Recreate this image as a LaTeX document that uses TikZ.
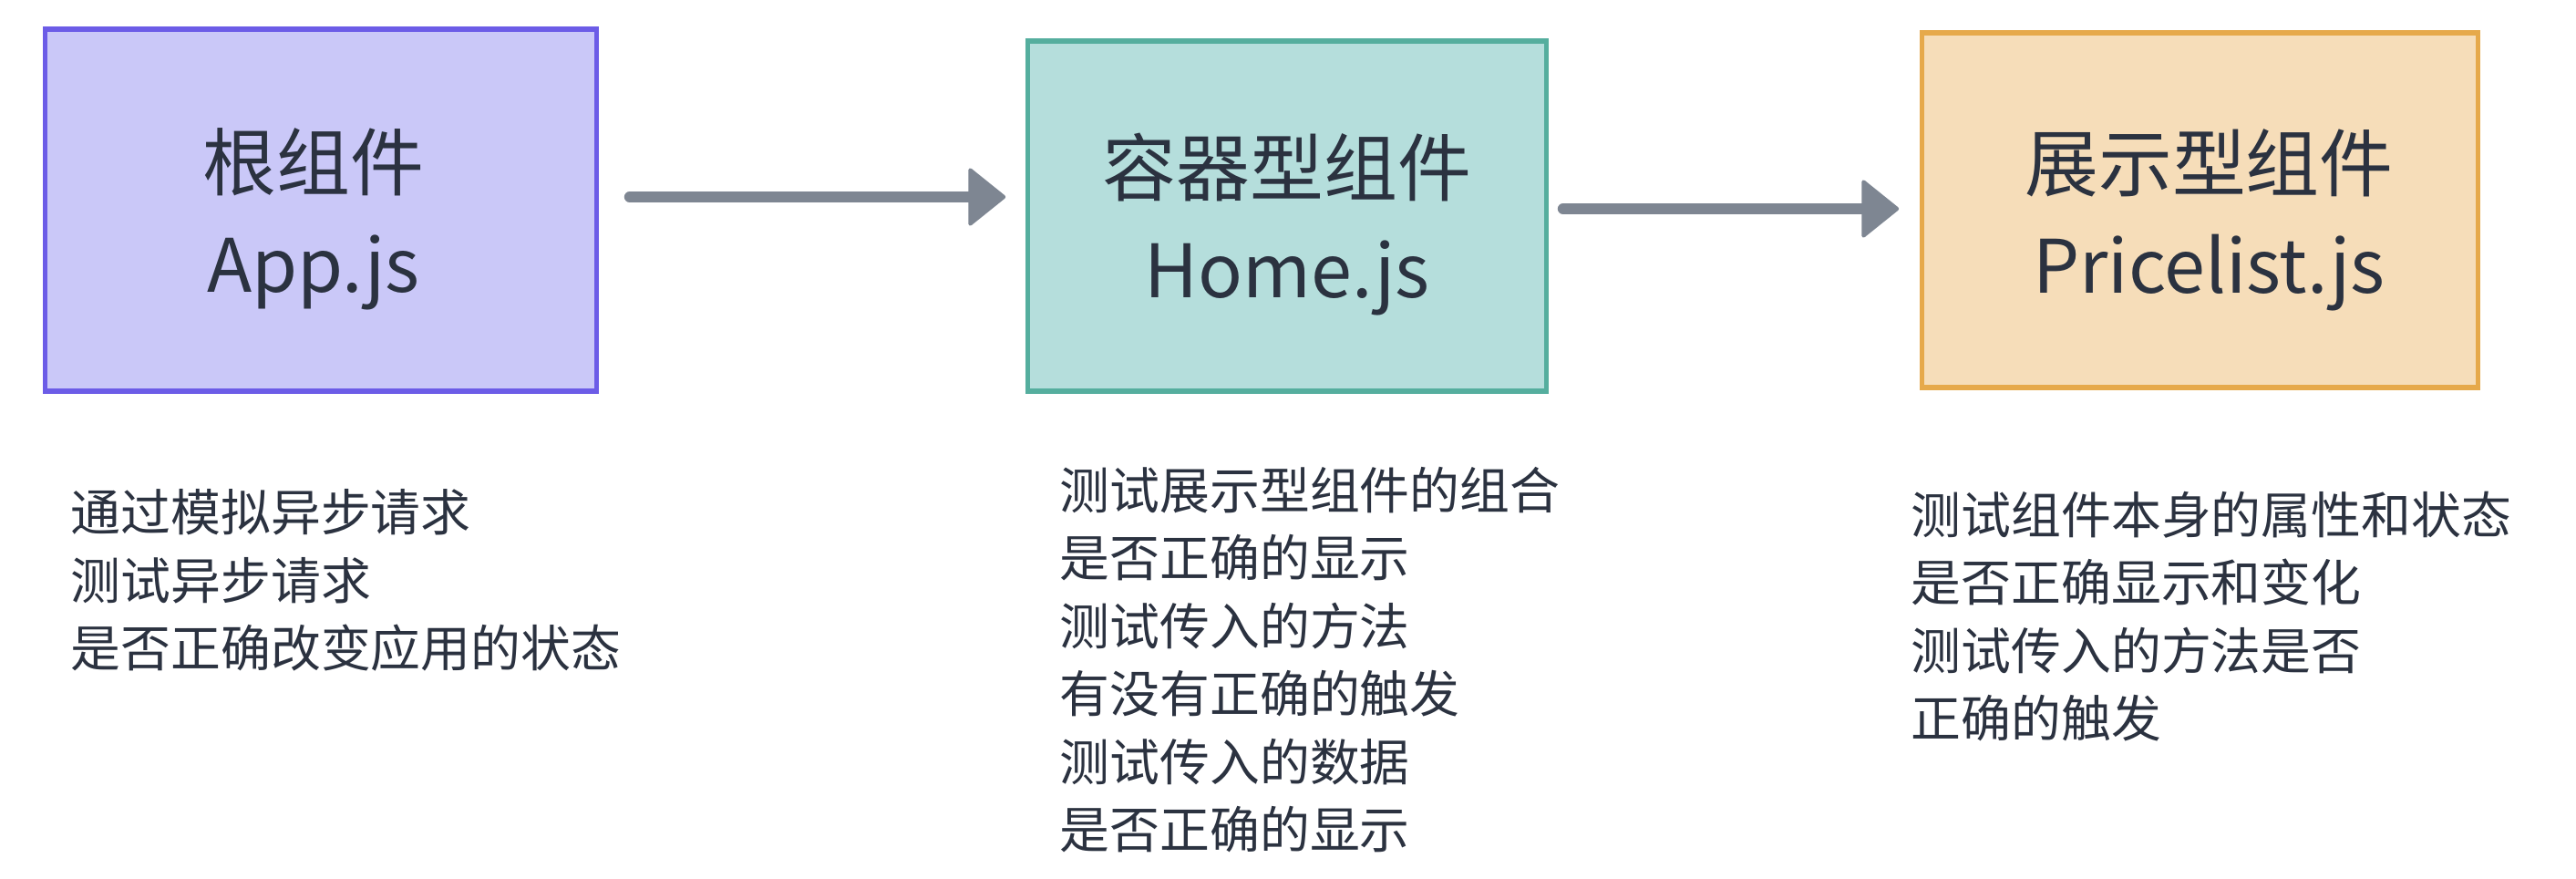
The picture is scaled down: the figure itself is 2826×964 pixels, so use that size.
\documentclass[tikz,border=0pt]{standalone}
\usepackage{fontspec}
\setmainfont{Noto Sans CJK SC}
\usetikzlibrary{arrows.meta}
\definecolor{txt}{HTML}{2B3240}
\definecolor{arrowgray}{HTML}{7E8692}
\definecolor{fillA}{HTML}{CAC8F8}
\definecolor{drawA}{HTML}{6C5CE7}
\definecolor{fillB}{HTML}{B5DEDC}
\definecolor{drawB}{HTML}{55AE9E}
\definecolor{fillC}{HTML}{F6DDB9}
\definecolor{drawC}{HTML}{E6A94B}
\tikzset{
  compbox/.style={rectangle, line width=1.5pt, inner sep=0pt},
  title/.style={align=center, text=txt, inner sep=0pt,
    font=\fontsize{23}{32}\selectfont},
  note/.style={anchor=north west, align=left, inner sep=0pt, text=txt,
    font=\fontsize{15.6}{21.2}\selectfont},
  flow/.style={draw=arrowgray, line width=3.4pt, line cap=round,
    -{Triangle[length=12pt,width=19pt,round,line width=1.2pt]}},
}
\begin{document}
\begin{tikzpicture}[x=0.01cm,y=-0.01cm]
\useasboundingbox[fill=white] (0,0) rectangle (2826,964);
\node[compbox, fill=fillA, draw=drawA, minimum width=6.04cm, minimum height=3.97cm] (app) at (352,230.5) {};
\node[compbox, fill=fillB, draw=drawB, minimum width=5.68cm, minimum height=3.84cm] (home) at (1412,237) {};
\node[compbox, fill=fillC, draw=drawC, minimum width=6.09cm, minimum height=3.89cm] (price) at (2413.5,230.5) {};
\node[title] (applabel) at ([shift={(-8,10)}]app.center) {根组件\\App.js};
\node[title] (homelabel) at ([shift={(0,9)}]home.center) {容器型组件\\Home.js};
\node[title] (pricelabel) at ([shift={(10,11)}]price.center) {展示型组件\\Pricelist.js};
\draw[flow] ([shift={(34,-14.5)}]app.east) -- ([shift={(-22,-21)}]home.west);
\draw[flow] ([shift={(16,-8)}]home.east) -- ([shift={(-23,-1.5)}]price.west);
\node[note] (appnote) at (77,536) {通过模拟异步请求\\测试异步请求\\是否正确改变应用的状态};
\node[note] (homenote) at (1162,511) {测试展示型组件的组合\\是否正确的显示\\测试传入的方法\\有没有正确的触发\\测试传入的数据\\是否正确的显示};
\node[note] (pricenote) at (2096,538) {测试组件本身的属性和状态\\是否正确显示和变化\\测试传入的方法是否\\正确的触发};
\end{tikzpicture}
\end{document}
